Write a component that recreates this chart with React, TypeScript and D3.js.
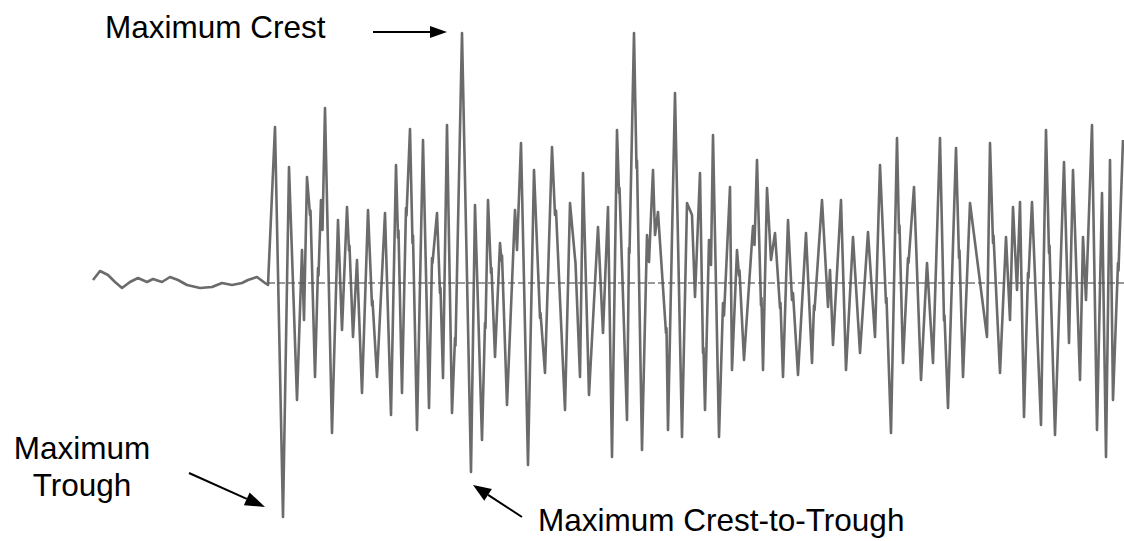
import React from 'react';
import * as d3 from 'd3';

// waveform samples as [time (s), amplitude], read from the record
const quietPhase: [number, number][] = [
  [0, 0.12], [0.7, 0.48], [1.5, 0.32], [2.2, 0.04], [2.9, -0.2], [3.7, 0.04], [4.5, 0.2], [5.4, 0.04],
  [6.0, 0.16], [6.9, 0.04], [7.7, 0.24], [8.5, 0.12], [9.4, -0.08], [10.7, -0.2], [11.9, -0.16], [12.9, 0],
  [13.9, -0.08], [14.9, 0], [15.5, 0.12], [16.4, 0.24], [17.2, 0], [17.5, -0.08],
];

const onsetPhase: [number, number][] = [
  [18.2, 6.24], [19.0, -9.36], [19.6, 4.64], [20.4, -4.68], [20.9, 1.32], [21.1, -1.48], [21.4, 4.24],
  [21.7, 2.72], [21.75, 2.9], [22.2, -3.76], [22.5, 0.6], [22.55, 0.3], [22.8, 3.32], [22.95, 2.12],
  [23.2, 7.0], [23.9, -6.0], [24.5, 2.52], [24.9, -1.88], [25.4, 3.04], [25.6, 1.3], [25.65, 1.5],
  [26.0, -2.16], [26.4, 0.92], [26.9, -4.4], [27.5, 2.92], [27.9, -0.9], [27.95, -0.7], [28.4, -3.76],
  [29.2, 2.8], [29.8, -5.28], [30.3, 4.72], [30.5, 1.8], [30.55, 2.1], [30.9, -4.4], [31.3, 3.0],
  [31.35, 2.7], [31.7, 6.16], [31.95, 1.6], [32.0, 1.9], [32.4, -5.88], [33.0, 5.72], [33.6, -5.0],
  [33.9, 1.0], [33.95, 0.8], [34.4, 2.8], [34.7, -0.4], [34.75, -0.2], [35.0, -3.8], [35.4, 6.32],
  [35.9, -5.2], [36.2, -2.2], [36.25, -2.5], [36.9, 10.0],
];

const strongPhase: [number, number][] = [
  [37.8, -7.56], [38.2, 3.12], [38.9, -6.28], [39.2, -1.6], [39.25, -1.8], [39.5, 3.32], [39.8, 0.4],
  [39.85, 0.6], [40.2, -2.96], [40.7, 1.6], [40.85, 0.9], [40.9, 1.1], [41.4, -4.88], [42.2, 2.92],
  [42.4, 1.32], [42.8, 5.6], [43.5, -7.28], [44.1, 4.52], [44.7, -1.4], [44.75, -1.2], [45.2, -3.6],
  [45.9, 5.44], [46.2, 2.72], [46.3, 2.9], [47.2, -5.08], [47.7, 3.2], [48.2, 1.0], [48.25, 0.8],
  [48.7, -3.76], [49.0, 4.4], [49.6, -4.48], [50.5, 2.24], [51.0, -2.0], [51.5, 3.04], [51.9, -6.96],
  [52.4, 6.12], [52.6, 3.6], [52.65, 3.8], [53.4, -5.48], [53.6, 1.4], [53.65, 1.2], [54.1, 10.0],
  [54.35, 4.6], [54.4, 4.9], [54.9, -6.68], [55.4, 1.92], [55.6, 0.84], [56.0, 4.52], [56.2, 1.92],
  [56.5, 2.84], [57.3, -2.0], [57.35, -1.8], [57.5, -5.88], [58.2, 7.6], [58.9, -6.16],
];

const codaPhase: [number, number][] = [
  [59.4, 3.2], [59.9, 2.72], [60.2, -0.56], [60.7, 4.4], [61.0, -2.8], [61.05, -2.6], [61.2, -5.08],
  [61.6, 1.72], [61.8, 0.72], [62.0, 5.92], [62.6, -6.16], [63.0, -0.8], [63.1, -1.3], [63.7, 3.84],
  [63.9, -3.48], [64.4, 1.32], [64.6, 0.3], [64.65, 0.5], [65.1, -3.08], [66.0, 2.28], [66.15, 1.52],
  [66.4, 4.92], [66.8, -0.9], [66.85, -0.6], [67.0, -3.48], [67.4, 3.8], [67.8, 0.92], [68.2, 2.0],
  [68.7, -1.0], [68.75, -0.8], [69.0, -3.76], [69.5, 2.52], [69.9, -0.68], [70.0, -0.4], [70.5, -3.68],
  [71.3, 2.0], [71.9, -3.2], [72.1, -0.9], [72.15, -1.1], [72.9, 3.32], [73.5, -0.96], [73.7, 0.52],
  [74.0, -2.48], [74.8, 3.32], [75.3, -3.48], [76.0, 1.84], [76.7, -2.8], [77.5, 2.04], [78.2, -2.16],
];

const tailPhase: [number, number][] = [
  [78.7, 4.72], [79.3, -0.8], [79.35, -0.6], [79.8, -6.0], [80.4, 5.8], [80.6, 2.0], [80.65, 2.3],
  [81.0, -3.2], [81.5, 1.0], [81.55, 0.8], [82.1, 3.84], [82.8, -3.88], [83.4, 0.8], [84.0, -3.2],
  [84.7, 5.8], [85.1, -1.5], [85.15, -1.3], [85.5, -5.0], [86.3, 5.4], [86.6, 1.0], [86.65, 1.3],
  [87.0, -3.76], [87.7, 3.2], [89.4, -2.16], [89.7, 5.6], [90.0, 1.6], [90.05, 1.9], [90.7, -3.6],
  [91.3, 1.84], [91.7, -1.48], [92.0, 3.04], [92.4, -0.28], [92.7, 3.24], [93.1, -5.36], [93.5, 0.4],
  [93.55, 0.2], [93.9, 3.24], [94.8, -5.68], [95.3, 6.12], [95.6, 1.2], [95.65, 1.5], [96.2, -6.08],
  [97.1, 4.84], [97.6, -2.4], [98.0, 4.52], [98.7, -3.88], [99.0, 1.84], [99.3, -0.68], [99.9, 6.32],
  [100.4, -5.88], [100.9, 3.6], [101.3, -6.96], [101.7, 4.92], [102.0, -4.68], [102.5, 0.8],
  [102.55, 0.5], [103.0, 5.72],
];

const labels = ['Maximum Crest', 'Maximum', 'Trough', 'Maximum Crest-to-Trough'];

const W = 1124;
const H = 541;

const x = d3.scaleLinear().domain([0, 103.1]).range([93, 1124]);
const y = d3.scaleLinear().domain([-10, 10]).range([533, 33]);

const line = d3
  .line<[number, number]>()
  .x((d) => x(d[0]))
  .y((d) => y(d[1]))
  .curve(d3.curveLinear);

const series = [...quietPhase, ...onsetPhase, ...strongPhase, ...codaPhase, ...tailPhase];

function Arrow({ x1, y1, x2, y2, len, half }: { x1: number; y1: number; x2: number; y2: number; len: number; half: number }) {
  const a = Math.atan2(y2 - y1, x2 - x1);
  const bx = x2 - len * Math.cos(a);
  const by = y2 - len * Math.sin(a);
  const px = -Math.sin(a) * half;
  const py = Math.cos(a) * half;
  return (
    <g>
      <line x1={x1} y1={y1} x2={bx} y2={by} stroke="#000" strokeWidth={2} />
      <polygon points={`${x2},${y2} ${bx + px},${by + py} ${bx - px},${by - py}`} fill="#000" />
    </g>
  );
}

export default function App() {
  const font = '"Liberation Sans", Arial, sans-serif';
  return (
    <svg
      width={W}
      height={H}
      style={{ position: 'absolute', left: 0, top: 0, display: 'block', background: '#fff' }}
    >
      <defs>
        <filter id="soft" x="-5%" y="-5%" width="110%" height="110%">
          <feGaussianBlur stdDeviation="0.5" />
        </filter>
      </defs>
      <line
        x1={x(17.5)}
        x2={W}
        y1={y(0)}
        y2={y(0)}
        stroke="#333"
        strokeWidth={1}
        strokeDasharray="7 3"
      />
      <path
        d={line(series) ?? ''}
        fill="none"
        stroke="#555"
        strokeOpacity={0.88}
        strokeWidth={2.6}
        strokeLinejoin="round"
        filter="url(#soft)"
      />
      <g fontFamily={font} fontSize={31.5} fill="#000">
        <text x={105} y={38}>{labels[0]}</text>
        <text x={82} y={459} textAnchor="middle">{labels[1]}</text>
        <text x={82} y={496} textAnchor="middle">{labels[2]}</text>
        <text x={538} y={531}>{labels[3]}</text>
      </g>
      <Arrow x1={373} y1={32} x2={447} y2={32} len={17} half={6} />
      <Arrow x1={189} y1={473} x2={265} y2={507} len={20} half={7} />
      <Arrow x1={522} y1={517} x2={473} y2={485} len={18} half={7} />
    </svg>
  );
}
